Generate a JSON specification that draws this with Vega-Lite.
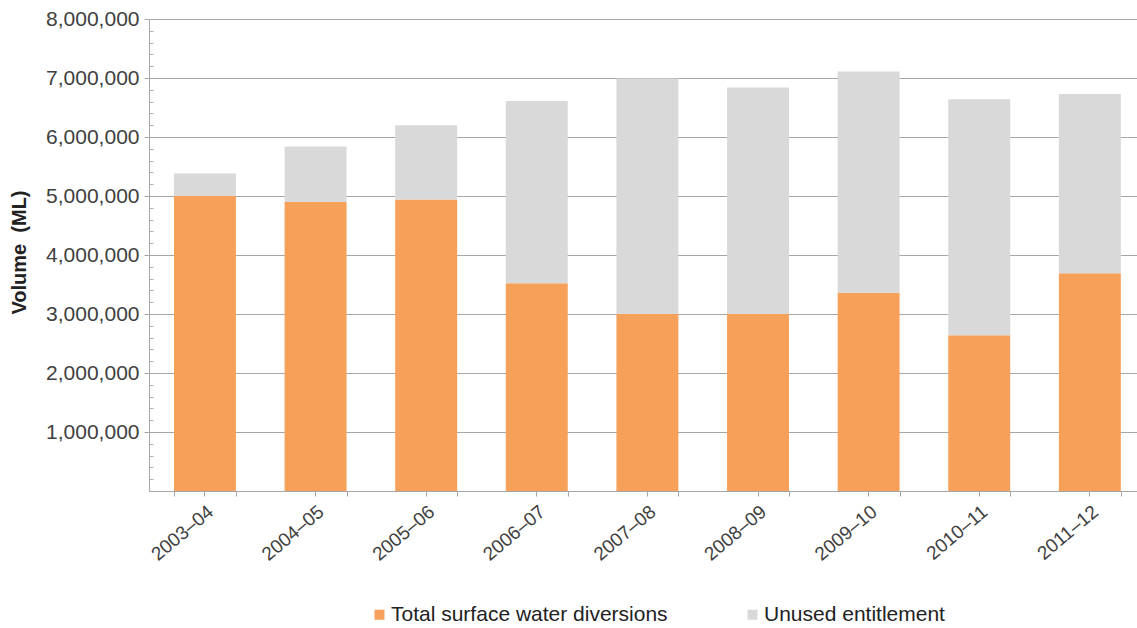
{
  "$schema": "https://vega.github.io/schema/vega-lite/v6.json",
  "autosize": {"type": "none"},
  "padding": {"left": 149, "top": 19, "right": 0, "bottom": 137},
  "width": 988,
  "height": 472,
  "background": "white",
  "config": {"font": "Liberation Sans", "view": {"stroke": null}},
  "data": {
    "values": [
      {"year": "2003–04", "series": "Total surface water diversions", "volume": 5000000},
      {"year": "2003–04", "series": "Unused entitlement", "volume": 380000},
      {"year": "2004–05", "series": "Total surface water diversions", "volume": 4900000},
      {"year": "2004–05", "series": "Unused entitlement", "volume": 940000},
      {"year": "2005–06", "series": "Total surface water diversions", "volume": 4940000},
      {"year": "2005–06", "series": "Unused entitlement", "volume": 1260000},
      {"year": "2006–07", "series": "Total surface water diversions", "volume": 3520000},
      {"year": "2006–07", "series": "Unused entitlement", "volume": 3090000},
      {"year": "2007–08", "series": "Total surface water diversions", "volume": 3000000},
      {"year": "2007–08", "series": "Unused entitlement", "volume": 3990000},
      {"year": "2008–09", "series": "Total surface water diversions", "volume": 3000000},
      {"year": "2008–09", "series": "Unused entitlement", "volume": 3840000},
      {"year": "2009–10", "series": "Total surface water diversions", "volume": 3360000},
      {"year": "2009–10", "series": "Unused entitlement", "volume": 3750000},
      {"year": "2010–11", "series": "Total surface water diversions", "volume": 2640000},
      {"year": "2010–11", "series": "Unused entitlement", "volume": 4000000},
      {"year": "2011–12", "series": "Total surface water diversions", "volume": 3690000},
      {"year": "2011–12", "series": "Unused entitlement", "volume": 3040000}
    ]
  },
  "resolve": {"axis": {"x": "independent", "y": "independent"}},
  "layer": [
    {
      "mark": {"type": "bar"},
      "encoding": {
        "x": {
          "field": "year", "type": "nominal", "sort": null,
          "scale": {"paddingInner": 0.44, "paddingOuter": 0.186, "align": 0.607},
          "axis": {
            "title": null, "labelAngle": -40, "labelFontSize": 19, "labelColor": "#404040",
            "labelPadding": 6, "tickSize": 5, "tickColor": "#A6A6A6",
            "domainColor": "#A6A6A6", "grid": false
          }
        },
        "y": {
          "field": "volume", "type": "quantitative", "stack": "zero",
          "scale": {"domain": [0, 8000000], "nice": false},
          "axis": {
            "values": [1000000, 2000000, 3000000, 4000000, 5000000, 6000000, 7000000, 8000000],
            "format": ",d", "labelFontSize": 21, "labelColor": "#404040", "labelPadding": 5,
            "tickSize": 5, "tickColor": "#A6A6A6", "domainColor": "#A6A6A6",
            "grid": true, "gridColor": "#A6A6A6", "gridWidth": 1,
            "title": "Volume\u00a0\u00a0(ML)", "titleFontSize": 20, "titleFontWeight": "bold",
            "titleColor": "#222222", "titleAngle": -90, "titleX": -130, "titleY": 233,
            "titleAlign": "center", "titleBaseline": "middle"
          }
        },
        "color": {
          "field": "series", "type": "nominal",
          "scale": {
            "domain": ["Total surface water diversions", "Unused entitlement"],
            "range": ["#F7A05A", "#D9D9D9"]
          },
          "legend": {
            "title": null, "orient": "none", "legendX": 220, "legendY": 585,
            "direction": "horizontal", "symbolType": "square", "symbolSize": 100,
            "symbolStrokeWidth": 0, "labelFontSize": 21, "labelColor": "#222222",
            "labelOffset": 1, "labelLimit": 500, "columnPadding": 74, "padding": 0
          }
        },
        "order": {"field": "series", "sort": "ascending"}
      }
    },
    {
      "mark": {"type": "bar", "opacity": 0},
      "encoding": {
        "x": {
          "field": "year", "type": "nominal", "sort": null,
          "axis": {
            "title": null, "labels": false, "domain": false, "grid": false,
            "tickBand": "extent", "tickSize": 5, "tickColor": "#A6A6A6", "orient": "bottom"
          }
        },
        "y": {
          "field": "volume", "type": "quantitative", "stack": "zero",
          "axis": {
            "orient": "left", "title": null, "labels": false, "domain": false, "grid": false,
            "values": [200000, 400000, 600000, 800000, 1200000, 1400000, 1600000, 1800000, 2200000, 2400000, 2600000, 2800000, 3200000, 3400000, 3600000, 3800000, 4200000, 4400000, 4600000, 4800000, 5200000, 5400000, 5600000, 5800000, 6200000, 6400000, 6600000, 6800000, 7200000, 7400000, 7600000, 7800000],
            "tickSize": -4, "tickColor": "#B0B0B0"
          }
        },
        "order": {"field": "series", "sort": "ascending"}
      }
    }
  ]
}
